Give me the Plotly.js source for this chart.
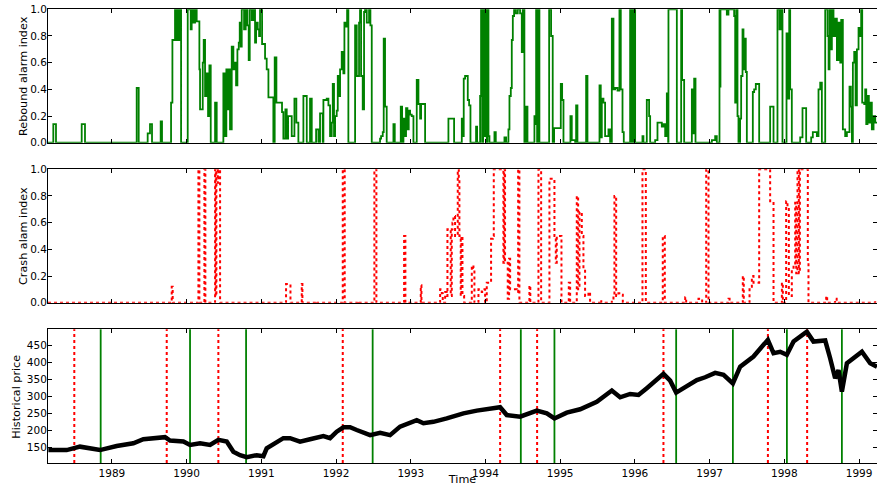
<!DOCTYPE html>
<html>
<head>
<meta charset="utf-8">
<script src="https://cdn.plot.ly/plotly-3.0.1.min.js"></script>
<style>html,body{margin:0;padding:0;background:#fff;}#chart{width:877px;height:486px;}</style>
</head>
<body>
<div id="chart"></div>
<script>
// Rebound alarm index (step series)
var rebT = [1988.145,1988.216,1988.252,1988.596,1988.64,1989.332,1989.359,1989.479,1989.51,1989.537,1989.653,1989.671,1989.792,1989.81,1989.845,1989.867,1989.881,1989.899,1989.912,1989.926,1990.015,1990.055,1990.068,1990.09,1990.113,1990.135,1990.171,1990.18,1990.216,1990.229,1990.247,1990.269,1990.287,1990.305,1990.323,1990.381,1990.403,1990.492,1990.51,1990.532,1990.55,1990.568,1990.581,1990.604,1990.626,1990.644,1990.662,1990.68,1990.698,1990.711,1990.724,1990.738,1990.769,1990.791,1990.814,1990.831,1990.845,1990.872,1990.894,1990.916,1990.93,1990.952,1990.97,1990.983,1991.01,1991.05,1991.072,1991.095,1991.161,1991.179,1991.202,1991.277,1991.295,1991.322,1991.34,1991.358,1991.407,1991.443,1991.469,1991.496,
1991.563,1991.608,1991.652,1991.675,1991.733,1991.764,1991.786,1991.822,1991.831,1991.875,1991.898,1991.92,1991.942,1991.956,1991.973,1991.987,1992.009,1992.023,1992.04,1992.054,1992.076,1992.098,1992.112,1992.134,1992.148,1992.165,1992.255,1992.277,1992.308,1992.321,1992.335,1992.357,1992.375,1992.388,1992.411,1992.442,1992.46,1992.478,1992.589,1992.603,1992.625,1992.638,1992.656,1992.678,1992.768,1992.786,1992.866,1992.884,1992.902,1992.92,1992.937,1992.955,1992.973,1992.991,1993.013,1993.036,1993.08,1993.103,1993.125,1993.138,1993.192,1993.504,1993.58,1993.683,1993.696,1993.709,1993.727,1993.763,1993.781,1993.799,1993.874,1993.888,1993.928,1993.941,1993.955,1993.968,1993.986,1993.999,1994.017,1994.026,1994.04,1994.053,1994.12,1994.138,1994.254,1994.276,1994.307,1994.321,1994.339,1994.352,1994.366,1994.383,1994.406,1994.432,1994.463,1994.486,1994.499,1994.521,1994.544,1994.562,1994.655,1994.669,1994.678,1994.691,1994.705,1994.722,1994.852,1994.878,1994.9,1994.918,1995.008,1995.026,1995.044,1995.137,1995.155,1995.2,1995.213,1995.231,1995.347,1995.365,
1995.526,1995.543,1995.557,1995.579,1995.601,1995.646,1995.668,1995.691,1995.713,1995.735,1995.767,1995.793,1995.811,1995.834,1995.851,1995.936,1995.958,1995.98,1996.003,1996.101,1996.114,1996.159,1996.19,1996.204,1996.271,1996.302,1996.36,1996.382,1996.405,1996.427,1996.445,1996.449,1996.552,1996.561,1996.619,1996.632,1996.659,1996.762,1996.775,1996.793,1996.811,1997.03,1997.074,1997.096,1997.132,1997.141,1997.145,1997.23,1997.252,1997.328,1997.342,1997.355,1997.373,1997.386,1997.408,1997.422,1997.44,1997.453,1997.467,1997.484,1997.498,1997.578,1997.596,1997.618,1997.663,1997.81,1997.855,1997.908,1997.935,1997.957,1997.975,1998.029,1998.042,1998.065,1998.078,1998.1,1998.212,1998.243,1998.292,1998.359,1998.381,1998.435,1998.457,1998.48,1998.502,1998.547,1998.578,1998.592,1998.605,1998.623,1998.636,1998.658,1998.68,1998.703,1998.725,1998.748,1998.761,1998.783,1998.814,1998.837,1998.872,1998.89,1998.904,1998.917,1998.935,1998.953,1998.971,1998.993,1999.016,1999.028,1999.042,1999.069,1999.082,1999.096,1999.113,1999.131,1999.149,1999.171,1999.194,1999.216,1999.24];
var rebV = [0,0.14,0,0.14,0,0.41,0,0.07,0.14,0,0.16,0,0.3,0.77,1.0,0.77,1.0,0.77,1.0,0,1.0,0.85,1.0,0.9,1.0,0.91,0.55,0.25,0.6,0.77,0.35,0.52,0.2,0.58,0,0.3,0,0.52,0.05,0.55,0.25,0.55,0.1,0.72,0.55,0.6,0.43,0.7,0.75,0.9,0.72,1.0,0.85,1.0,0.88,0.62,1.0,0.92,1.0,0.75,0.9,0.85,0.8,1.0,0.74,0.63,0.55,0.34,0,0.64,0.3,0.23,0.03,0.25,0.03,0.2,0.05,0.33,0.15,0,
0.35,0,0.33,0,0.1,0,0.22,0,0.32,0.33,0.28,0.05,0.15,0.44,0.05,0.2,0.24,0.5,0.35,0.55,0.68,0.52,0.9,0.87,1.0,0,0.88,0.5,0.9,1.0,0.5,0.25,0.98,1.0,0.9,1.0,0.88,0,0.03,0.05,0.08,0.78,0.27,0,0.14,0,0.27,0,0.18,0.05,0.26,0.1,0.24,0.21,0.2,0,0.47,0.29,0.18,0.29,0,0.18,0,0.18,0.05,0.48,0.5,0.32,0.28,0,0.12,0,0.35,1.0,0,1.0,0.05,1.0,0,1.0,0.05,0,0.08,0,0.04,0,0.1,0.35,0.41,0.77,0.95,1.0,0.97,1.0,0.97,0.68,1.0,0,0.27,0,0.2,0.14,1.0,0,1.0,0,1.0,0.8,0,0.11,0.44,0.32,0,0.2,0.02,0,0.28,0,0.5,0,
0.43,0.04,0.33,0.3,0.05,0.1,0,0.93,0.4,0.41,0.39,1.0,0.4,0.08,0,1.0,0,1.0,0,0.05,0,0.32,0.2,0,0.02,0.15,0.12,0.14,0.05,0.37,0,1.0,1.0,0,1.0,0.47,0,0.4,0.07,0.48,0,0.02,0.05,0,1.0,0.42,1.0,0.96,1.0,0.95,0.3,1.0,0.2,0,0.18,0.5,0.85,0.55,0.78,0.53,0,0.38,0.4,0.44,0,0.27,0,1.0,0.85,1.0,0,0.82,0.33,1.0,0.4,0,0.04,0.26,0,0.04,0.08,0.05,0.4,0.45,0,1.0,0.8,0.55,1.0,0.7,1.0,0.8,0.93,0.62,0.9,0.6,0.92,0.1,0.05,0.08,0.42,0.27,0,0.6,0.68,0.28,0.7,0.86,0.8,1.0,0.3,0.29,0.4,0.14,0.35,0.15,0.3,0.1,0.2,0.15,0.15];

// Crash alarm index (step series)
var crashT = [1988.145,1989.801,1989.814,1990.158,1990.171,1990.238,1990.251,1990.381,1990.39,1990.399,1990.417,1990.43,1990.448,1991.331,1991.39,1991.541,1991.55,1991.73,1991.74,1992.09,1992.116,1992.29,1992.3,1992.513,1992.54,1992.911,1992.928,1993.134,1993.143,1993.393,1993.415,1993.428,1993.46,1993.482,1993.491,1993.518,1993.535,1993.549,1993.558,1993.571,1993.593,1993.629,1993.643,1993.651,1993.669,1993.678,1993.692,1993.714,1993.817,1993.839,1993.852,1993.906,1993.95,1993.972,1993.995,1994.017,1994.075,1994.098,1994.111,1994.24,1994.25,1994.262,1994.298,1994.316,1994.33,1994.419,1994.437,1994.454,1994.588,1994.6,1994.709,1994.745,1994.856,1994.923,1994.941,1994.954,1995.017,1995.115,1995.133,1995.222,1995.24,1995.258,1995.289,1995.311,1995.333,1995.378,1995.4,1995.535,1995.55,1995.691,1995.713,1995.726,1995.749,1995.78,1995.825,1995.838,1996.101,1996.146,1996.373,1996.4,1996.673,1996.686,1996.851,1996.9,1996.954,1996.985,1997.253,1997.267,1997.444,1997.457,1997.534,1997.552,1997.565,1997.587,1997.641,1997.663,1997.81,1997.855,1997.967,1997.98,1998.024,1998.042,1998.06,1998.1,1998.123,1998.145,1998.159,1998.176,1998.194,1998.208,1998.314,1998.323,1998.56,1998.573,1998.68,1998.7,1999.216,1999.24];
var crashV = [0,0.12,0,1.0,0,1.0,0,1.0,0.05,1.0,0.9,1.0,0,0.14,0,0.14,0,0.01,0,1.0,0,0.01,0,1.0,0,0.5,0,0.13,0,0.1,0.07,0,0.08,0.05,0.55,0.55,0.05,0.55,0.6,0.65,0.5,1.0,0.92,0.5,0.05,0.5,0.05,0,0.28,0.26,0,0.1,0.08,0.1,0,0.15,0.48,0.5,1.0,0.3,1.0,0.3,0.03,0.33,0.1,0.08,1.0,0,0.13,0,1.0,0,0.93,0.5,0.3,0.5,0,0.15,0,0.8,0.1,0.68,0.5,0.25,0.05,0.08,0,0.02,0,0.02,0.05,0.8,0.05,0.07,0.06,0,1.0,0,0.5,0,0.04,0,0.03,0,1.0,0,0.03,0,0.2,0,0.1,0.12,0.2,0.15,0.15,1.0,0.76,0,0.15,0,0.76,0.72,0.05,0.25,0.28,0.75,0.22,1.0,0.22,1.0,0.3,0,0.05,0,0.03,0,0.02,0.02];

// Historical price
var priceT = [1988.15,1988.395,1988.573,1988.841,1989.064,1989.287,1989.421,1989.6,1989.711,1989.778,1989.957,1990.046,1990.18,1990.314,1990.425,1990.537,1990.626,1990.715,1990.805,1990.938,1991.028,1991.072,1991.206,1991.295,1991.385,1991.518,1991.652,1991.831,1991.92,1992.009,1992.099,1992.188,1992.277,1992.456,1992.59,1992.723,1992.857,1993.08,1993.17,1993.303,1993.482,1993.705,1993.884,1994.062,1994.196,1994.285,1994.464,1994.687,1994.821,1994.923,1995.088,1995.267,1995.49,1995.691,1995.802,1995.936,1996.048,1996.159,1996.382,1996.472,1996.552,1996.695,1996.829,1996.94,1997.074,1997.186,1997.311,1997.409,1997.587,1997.779,1997.855,1997.944,1998.033,1998.123,1998.301,1998.39,1998.547,1998.613,1998.68,1998.725,1998.77,1998.837,1999.038,1999.149,1999.24];
var priceP = [143,143,153,143,155,163,175,178,181,171,168,158,163,158,173,168,138,128,122,128,125,148,168,178,178,168,175,184,178,197,210,210,202,187,194,187,212,231,222,226,236,251,259,266,269,246,241,259,251,236,253,263,285,318,298,308,305,325,367,347,312,331,349,357,370,364,339,388,418,467,428,432,423,462,491,462,465,413,354,378,315,398,432,398,388];

// Alarm dates shown as vertical lines in the price panel
var crashDates = [1988.497,1989.734,1990.425,1992.09,1994.196,1994.691,1996.382,1997.78,1998.305];
var reboundDates = [1988.85,1990.046,1990.796,1992.49,1994.473,1994.923,1996.552,1997.311,1998.034,1998.77];

var yearTicks = [1989,1990,1991,1992,1993,1994,1995,1996,1997,1998,1999];
var idxTicks = [0,0.2,0.4,0.6,0.8,1.0];
var priceTicks = [150,200,250,300,350,400,450];
var panelTitles = ['Rebound alarm index', 'Crash alam index', 'Historical price'];

var xRange = [1988.145, 1999.24];
var font = {family: 'DejaVu Sans', size: 10.5, color: '#000'};
var titleFont = {family: 'DejaVu Sans', size: 11.2, color: '#000'};

var traces = [
  {x: rebT, y: rebV, type: 'scatter', mode: 'lines', line: {shape: 'hv', color: '#008000', width: 1.8}, xaxis: 'x', yaxis: 'y', hoverinfo: 'skip'},
  {x: crashT, y: crashV, type: 'scatter', mode: 'lines', line: {shape: 'hv', color: '#ff0000', width: 2, dash: 'dot'}, xaxis: 'x2', yaxis: 'y2', hoverinfo: 'skip'},
  {x: priceT, y: priceP, type: 'scatter', mode: 'lines', line: {color: '#000', width: 4.5}, xaxis: 'x3', yaxis: 'y3', hoverinfo: 'skip'}
];

var shapes = [];
crashDates.forEach(function (d) {
  shapes.push({type: 'line', xref: 'x3', yref: 'y3 domain', x0: d, x1: d, y0: 0, y1: 1, layer: 'below', line: {color: '#ff0000', width: 2, dash: 'dot'}});
});
reboundDates.forEach(function (d) {
  shapes.push({type: 'line', xref: 'x3', yref: 'y3 domain', x0: d, x1: d, y0: 0, y1: 1, layer: 'below', line: {color: '#008000', width: 1.8}});
});

function xax(anchor, labels) {
  var a = {anchor: anchor, domain: [0, 1], range: xRange, tickvals: yearTicks, ticktext: yearTicks.map(String),
    showticklabels: labels, ticks: 'inside', ticklen: 4, tickcolor: '#000', mirror: 'ticks',
    showline: true, linecolor: '#000', linewidth: 1, showgrid: false, zeroline: false, tickfont: font};
  if (labels) a.title = {text: 'Time', font: titleFont, standoff: 1};
  return a;
}
function yax(anchor, domain, range, ticks, fmt) {
  return {anchor: anchor, domain: domain, range: range, tickvals: ticks, tickformat: fmt,
    ticks: 'inside', ticklen: 4, tickcolor: '#000', mirror: 'ticks', ticklabelstandoff: -2,
    showline: true, linecolor: '#000', linewidth: 1, showgrid: false, zeroline: false, tickfont: font};
}

var domains = [[0.7055, 0.9993], [0.3531, 0.6469], [0, 0.2945]];
var titleX = [-0.0302, -0.0302, -0.0380];
var annotations = panelTitles.map(function (t, i) {
  return {text: t, xref: 'paper', yref: 'paper', x: titleX[i], y: (domains[i][0] + domains[i][1]) / 2,
    xanchor: 'center', yanchor: 'middle', textangle: -90, showarrow: false, font: titleFont};
});

var layout = {
  width: 877, height: 486,
  margin: {l: 48, r: 0, t: 9, b: 23},
  paper_bgcolor: '#fff', plot_bgcolor: '#fff',
  showlegend: false,
  xaxis: xax('y', false),
  xaxis2: xax('y2', false),
  xaxis3: xax('y3', true),
  yaxis: yax('x', domains[0], [0, 1], idxTicks, '.1f'),
  yaxis2: yax('x2', domains[1], [0, 1], idxTicks, '.1f'),
  yaxis3: yax('x3', domains[2], [105, 498], priceTicks, 'd'),
  shapes: shapes,
  annotations: annotations
};

Plotly.newPlot('chart', traces, layout, {staticPlot: true, displayModeBar: false});
</script>
</body>
</html>
